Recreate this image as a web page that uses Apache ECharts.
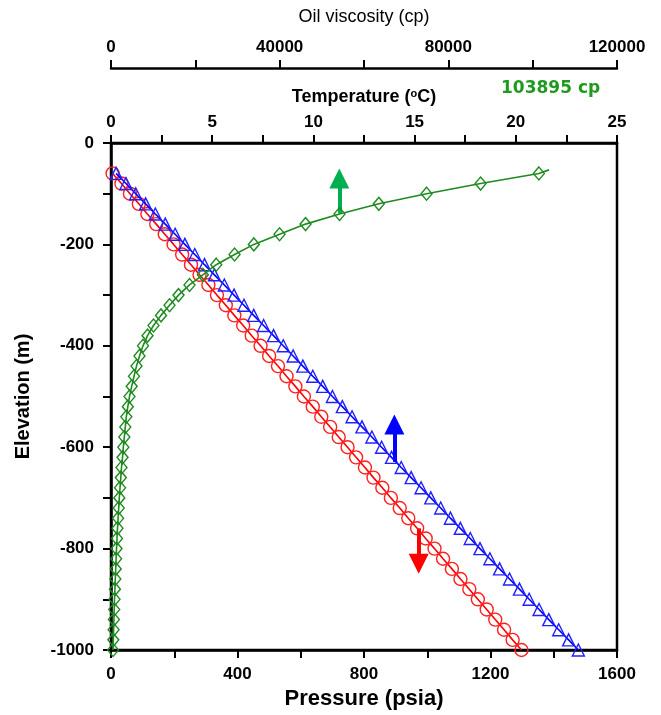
<!DOCTYPE html>
<html>
<head>
<meta charset="utf-8">
<script src="https://cdn.jsdelivr.net/npm/echarts@6/dist/echarts.min.js"></script>
<style>
html,body{margin:0;padding:0;background:#fff;}
#c{width:661px;height:715px;}
</style>
</head>
<body>
<div id="c"></div>
<script>
const elevation = [-60,-80,-100,-120,-140,-160,-180,-200,-220,-240,-260,-280,-300,-320,-340,-360,-380,-400,-420,-440,-460,-480,-500,-520,-540,-560,-580,-600,-620,-640,-660,-680,-700,-720,-740,-760,-780,-800,-820,-840,-860,-880,-900,-920,-940,-960,-980,-1000];
const pressure = [5,33,60,88,115,143,170,198,225,253,280,308,335,363,390,418,445,473,500,528,555,583,610,638,665,693,720,748,775,803,830,858,885,913,940,968,995,1023,1050,1078,1105,1133,1160,1188,1215,1243,1270,1298];
const temperature = [0.25,0.74,1.22,1.71,2.19,2.68,3.17,3.65,4.14,4.62,5.11,5.60,6.08,6.57,7.05,7.54,8.03,8.51,9.00,9.48,9.97,10.46,10.94,11.43,11.91,12.40,12.89,13.37,13.86,14.34,14.83,15.32,15.80,16.29,16.77,17.26,17.75,18.23,18.72,19.20,19.69,20.18,20.66,21.15,21.63,22.12,22.61,23.09];
const viscosity = [101470,87650,74840,63520,54200,46140,39970,33870,29300,24950,21780,18620,16010,13880,11860,10080,8660,7590,6760,6050,5460,4910,4390,3990,3630,3390,3160,2920,2730,2490,2330,2140,1970,1830,1680,1540,1420,1310,1210,1120,1020,930,830,760,690,620,550,480];
const viscosityMax = 103895;
const viscosityMaxElevation = -53;
const pressureTicks = [0,400,800,1200,1600];
const temperatureTicks = [0,5,10,15,20,25];
const viscosityTicks = [0,40000,80000,120000];
const elevationTicks = [0,-200,-400,-600,-800,-1000];

const FONT = '"Liberation Sans", Arial, sans-serif';
const lbl = (ticks, margin) => ({
  show: true, margin: margin, color: '#000', fontFamily: FONT, fontWeight: 'bold', fontSize: 17,
  formatter: v => ticks.indexOf(Number(v)) >= 0 ? String(v) : ''
});
const axLine = {show: true, onZero: false, lineStyle: {color: '#000', width: 2.5}};
const axTick = {show: true, length: 8, lineStyle: {color: '#000', width: 2}};

const chart = echarts.init(document.getElementById('c'), null, {renderer: 'canvas'});
chart.setOption({
  animation: false,
  backgroundColor: '#fff',
  grid: {left: 111, right: 44, top: 143, bottom: 65, show: true, borderColor: '#000', borderWidth: 2.5, backgroundColor: 'transparent'},
  xAxis: [
    {type: 'value', position: 'bottom', min: 0, max: 1600, interval: 200,
     name: 'Pressure (psia)', nameLocation: 'middle', nameGap: 36,
     nameTextStyle: {color: '#000', fontFamily: FONT, fontWeight: 'bold', fontSize: 22},
     axisLine: axLine, axisTick: axTick, axisLabel: lbl(pressureTicks, 16), splitLine: {show: false}},
    {type: 'value', position: 'top', min: 0, max: 25, interval: 2.5,
     name: '{b|Temperature (}{s|o}{b|C)}', nameLocation: 'middle', nameGap: 37,
     nameTextStyle: {rich: {
       b: {color: '#000', fontFamily: FONT, fontWeight: 'bold', fontSize: 18},
       s: {color: '#000', fontFamily: FONT, fontWeight: 'bold', fontSize: 11, verticalAlign: 'top', padding: [0,0,6,0]}
     }},
     axisLine: axLine, axisTick: axTick, axisLabel: lbl(temperatureTicks, 12), splitLine: {show: false}},
    {type: 'value', position: 'top', offset: 75, min: 0, max: 120000, interval: 20000,
     name: 'Oil viscosity (cp)', nameLocation: 'middle', nameGap: 42,
     nameTextStyle: {color: '#000', fontFamily: FONT, fontSize: 18},
     axisLine: axLine, axisTick: axTick, axisLabel: lbl(viscosityTicks, 12), splitLine: {show: false}},
  ],
  yAxis: [
    {type: 'value', min: -1000, max: 0, interval: 100,
     name: 'Elevation (m)', nameLocation: 'middle', nameGap: 78, nameRotate: 90,
     nameTextStyle: {color: '#000', fontFamily: FONT, fontWeight: 'bold', fontSize: 20},
     axisLine: axLine, axisTick: axTick, axisLabel: lbl(elevationTicks, 17), splitLine: {show: false}}
  ],
  graphic: [
    {type: 'text', left: 501, top: 80, style: {text: viscosityMax + ' cp', fill: '#1f9a1f', font: 'bold 17px "DejaVu Sans", sans-serif'}}
  ],
  series: [
    {name: 'Pressure', type: 'line', xAxisIndex: 0, yAxisIndex: 0, z: 3,
     data: pressure.map((p, i) => [p, elevation[i]]),
     symbol: 'circle', symbolSize: 13,
     lineStyle: {color: '#ff0000', width: 1.6},
     itemStyle: {color: 'rgba(0,0,0,0)', borderColor: '#ff2020', borderWidth: 1.4},
     markLine: {silent: true, symbol: ['none', 'triangle'], symbolSize: 20,
       label: {show: false},
       lineStyle: {type: 'solid', width: 4},
       data: [
         [{coord: [722, -139], lineStyle: {color: '#00b050', type: 'solid', width: 4}, itemStyle: {color: '#00b050'}}, {coord: [722, -70]}],
         [{coord: [896, -629], lineStyle: {color: '#0000ff', type: 'solid', width: 4}, itemStyle: {color: '#0000ff'}}, {coord: [896, -555]}],
         [{coord: [973, -760], lineStyle: {color: '#ff0000', type: 'solid', width: 4}, itemStyle: {color: '#ff0000'}}, {coord: [973, -830]}]
       ]}
    },
    {name: 'Temperature', type: 'line', xAxisIndex: 1, yAxisIndex: 0, z: 4,
     data: temperature.map((t, i) => [t, elevation[i]]),
     symbol: 'triangle', symbolSize: 12,
     lineStyle: {color: '#0000ff', width: 1.6},
     itemStyle: {color: 'rgba(0,0,0,0)', borderColor: '#2020ff', borderWidth: 1.4}
    },
    {name: 'Oil viscosity', type: 'line', xAxisIndex: 2, yAxisIndex: 0, z: 5,
     data: [{value: [viscosityMax, viscosityMaxElevation], symbol: 'none'}].concat(viscosity.map((v, i) => [v, elevation[i]])),
     symbol: 'diamond', symbolSize: [11, 13],
     lineStyle: {color: '#1f8a1f', width: 1.6},
     itemStyle: {color: 'rgba(0,0,0,0)', borderColor: '#1f8a1f', borderWidth: 1.4}
    }
  ]
});
</script>
</body>
</html>
